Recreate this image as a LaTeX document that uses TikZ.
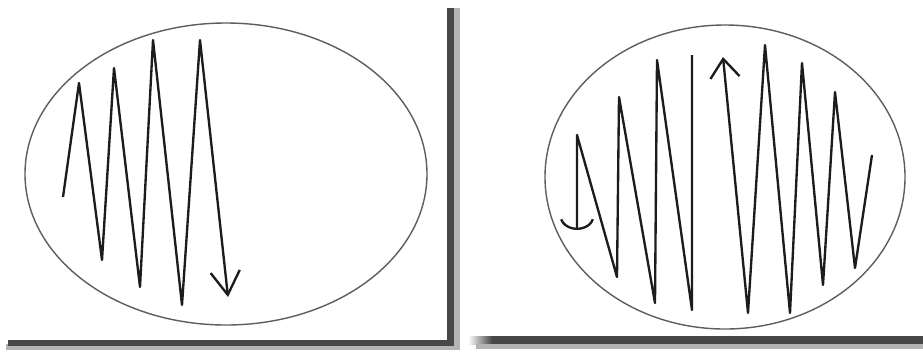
\documentclass[tikz,border=0pt]{standalone}
\usepackage{xcolor}
\usepackage{tikz}
\usetikzlibrary{arrows.meta}
\definecolor{ZZInk}{HTML}{1C1C1C}
\definecolor{ZZRim}{HTML}{5E5E5E}
\definecolor{ZZShade}{HTML}{474747}
\definecolor{ZZSoft}{HTML}{B4B4B4}

\begin{document}
\begin{tikzpicture}[x=0.03cm,y=-0.03cm,
  zigzag/.style={ZZInk,line width=2pt,line join=round},
  rim/.style={ZZRim,line width=1.2pt}]
\path[use as bounding box] (0,0) rectangle (923,351);
\fill[white] (0,0) rectangle (923,351);
% frame shadows
\fill[ZZSoft] (452,8) rectangle (460,350);
\fill[ZZShade] (447,8) rectangle (454,348);
\fill[ZZSoft] (6,344) rectangle (460,350);
\fill[ZZShade] (8,340) rectangle (454,346);
\shade[left color=white,right color=ZZShade] (468,336) rectangle (492,344);
\fill[ZZShade] (492,336) rectangle (923,344);
\fill[ZZSoft] (476,344) rectangle (923,349);
% left panel
\draw[rim] (226,174) ellipse [x radius=201,y radius=151];
\draw[zigzag,-{Straight Barb[length=20pt,width=25pt]}]
  (63,197) -- (79,83) -- (102,260) -- (114,68) -- (140,287)
  -- (153,40) -- (182,305) -- (200,40) -- (228,297);
% right panel
\draw[rim] (725,177) ellipse [x radius=180,y radius=152];
\draw[zigzag,-{Arc Barb[arc=150,length=12pt,width=30pt]}]
  (692,55) -- (692,310) -- (657,60) -- (655,303) -- (619,97)
  -- (617,277) -- (577,135) -- (577,230);
\draw[zigzag,-{Straight Barb[length=16pt,width=25pt]}]
  (872,155) -- (855,268) -- (835,92) -- (823,285) -- (802,63)
  -- (790,313) -- (765,45) -- (748,313) -- (723,57);
\end{tikzpicture}
\end{document}
